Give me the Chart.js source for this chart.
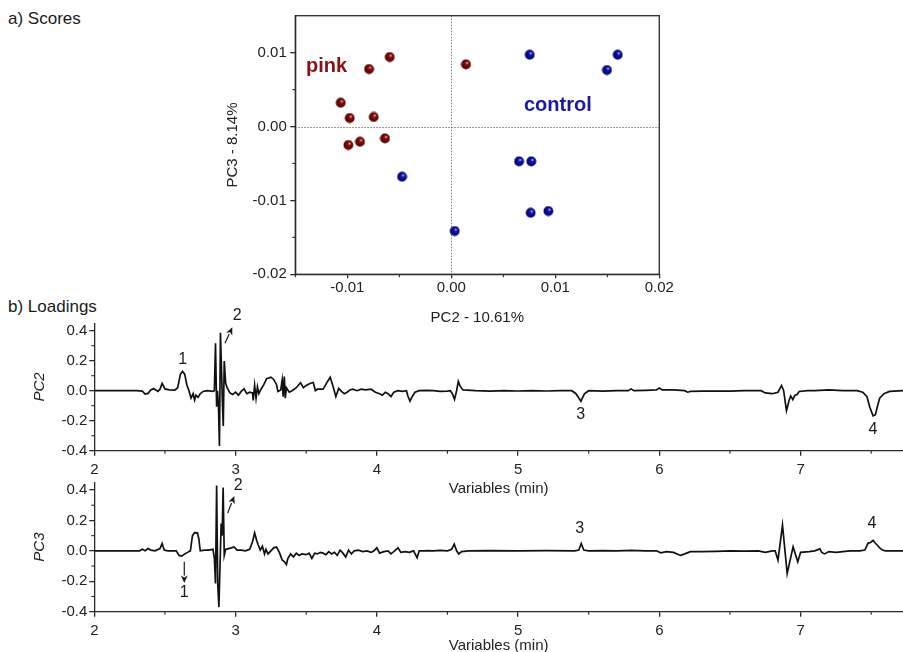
<!DOCTYPE html>
<html>
<head>
<meta charset="utf-8">
<script src="https://cdn.jsdelivr.net/npm/chart.js@4/dist/chart.umd.min.js"></script>
<style>
  html, body { margin:0; padding:0; background:#fff; width:903px; height:652px; overflow:hidden; }
  .wrap { position:absolute; }
  .hdr { position:absolute; font-family:'Liberation Sans', Arial, sans-serif; font-size:17px; line-height:17px; color:#1a1a1a; white-space:nowrap; }
  canvas { display:block; }
</style>
</head>
<body>
<div class="hdr" style="left:8px; top:10px;">a) Scores</div>
<div class="hdr" style="left:8px; top:298px;">b) Loadings</div>
<div class="wrap" style="left:200px; top:0px;"><canvas id="scores" width="480" height="330"></canvas></div>
<div class="wrap" style="left:0px; top:300px;"><canvas id="pc2" width="903" height="200"></canvas></div>
<div class="wrap" style="left:0px; top:470px;"><canvas id="pc3" width="903" height="190"></canvas></div>
<script>
// ---------------- DATA ----------------
// Scores: PC2 (x) vs PC3 (y)
const pinkPC2    = [-0.00592, -0.00791, 0.00141, -0.01063, -0.00977, -0.00746, -0.00878, -0.00990, -0.00638];
const pinkPC3    = [ 0.00941,  0.00778, 0.00842,  0.00322,  0.00115,  0.00129, -0.00206, -0.00250, -0.00160];
const controlPC2 = [ 0.00754,  0.01600, 0.01497, -0.00474,  0.00651,  0.00769,  0.00763,  0.00933,  0.00033];
const controlPC3 = [ 0.00972,  0.00972, 0.00765, -0.00679, -0.00471, -0.00471, -0.01167, -0.01144, -0.01414];
const scoreXTicks = [-0.01, 0.00, 0.01, 0.02];
const scoreYTicks = [-0.02, -0.01, 0.00, 0.01];
const scoreXMinor = [-0.015, -0.005, 0.005, 0.015];
const scoreYMinor = [-0.015, -0.005, 0.005];
const groupLabels = [['pink', -0.01397, 0.00742], ['control', 0.00699, 0.00214]];

// Loadings: retention time (min) vs loading
const pc2Loadings = [
 [2.00,0],[2.30,0],[2.34,-0.003],[2.36,-0.022],[2.38,-0.018],[2.40,0.005],[2.42,0.015],[2.43,0.008],[2.45,-0.005],
 [2.465,0.01],[2.48,0.049],[2.50,0.012],[2.53,0.005],[2.57,0.004],[2.59,0.02],[2.61,0.11],[2.625,0.128],[2.64,0.11],
 [2.655,0.04],[2.67,0.0],[2.685,-0.05],[2.70,-0.02],[2.71,-0.062],[2.72,-0.03],[2.735,-0.045],[2.75,-0.02],[2.77,-0.005],
 [2.80,0.0],[2.84,-0.005],[2.85,0.0],[2.858,0.316],[2.866,-0.107],[2.872,0.0],[2.879,-0.1],[2.886,-0.369],[2.893,0.387],
 [2.90,0.16],[2.906,-0.05],[2.913,-0.236],[2.92,0.198],[2.93,0.05],[2.94,0.02],[2.96,-0.015],[2.98,-0.025],[3.00,-0.01],
 [3.02,-0.03],[3.04,-0.005],[3.06,0.012],[3.08,-0.02],[3.10,-0.01],[3.12,-0.015],[3.125,-0.065],[3.135,0.035],[3.145,-0.05],
 [3.155,0.025],[3.165,-0.02],[3.18,0.01],[3.20,0.04],[3.22,0.08],[3.25,0.09],[3.27,0.075],[3.29,0.04],[3.30,-0.005],
 [3.32,0.005],[3.33,0.07],[3.337,-0.04],[3.345,0.095],[3.352,-0.05],[3.36,0.02],[3.38,-0.01],[3.40,0.0],[3.43,0.02],
 [3.46,0.053],[3.48,0.02],[3.50,0.035],[3.53,0.05],[3.55,0.055],[3.565,0.0],[3.58,0.01],[3.62,0.01],[3.65,0.06],
 [3.67,0.09],[3.69,0.03],[3.71,-0.04],[3.73,0.015],[3.75,-0.005],[3.77,-0.02],[3.79,-0.01],[3.81,0.005],[3.83,0.01],
 [3.86,0.0],[3.89,0.01],[3.92,0.005],[3.96,0.01],[3.99,-0.01],[4.02,-0.02],[4.04,-0.03],[4.06,-0.01],[4.08,-0.02],
 [4.10,-0.04],[4.12,-0.01],[4.15,0.0],[4.18,-0.005],[4.21,0.0],[4.22,-0.035],[4.235,-0.07],[4.25,-0.04],[4.27,-0.01],
 [4.30,0.0],[4.35,0.002],[4.40,0.0],[4.45,-0.005],[4.50,-0.003],[4.52,0.0],[4.535,-0.02],[4.55,-0.058],[4.565,0.0],
 [4.577,0.062],[4.59,0.03],[4.61,0.005],[4.70,0.0],[4.80,-0.003],[4.90,0.0],[5.00,-0.002],[5.10,0.0],[5.20,-0.002],
 [5.30,0.0],[5.38,0.0],[5.41,-0.02],[5.445,-0.07],[5.47,-0.02],[5.50,0.0],[5.60,-0.003],[5.70,0.0],[5.78,0.0],
 [5.80,0.012],[5.82,0.0],[5.90,0.002],[5.98,0.005],[6.00,0.018],[6.02,0.005],[6.10,0.005],[6.18,0.0],[6.20,-0.01],
 [6.22,-0.005],[6.30,-0.003],[6.40,-0.003],[6.50,-0.003],[6.60,0.0],[6.72,0.0],[6.75,-0.015],[6.80,-0.02],[6.84,-0.01],
 [6.865,0.035],[6.88,0.0],[6.90,-0.133],[6.92,-0.06],[6.93,-0.035],[6.945,-0.06],[6.96,-0.03],[6.975,-0.025],[6.99,-0.005],
 [7.05,0.0],[7.10,0.0],[7.20,0.005],[7.30,0.0],[7.40,0.0],[7.44,-0.01],[7.47,-0.04],[7.49,-0.11],[7.513,-0.167],
 [7.53,-0.16],[7.545,-0.1],[7.56,-0.05],[7.59,-0.02],[7.63,-0.005],[7.725,0.0]
];
const pc3Loadings = [
 [2.00,0],[2.32,0],[2.34,0.01],[2.36,0.0],[2.38,0.015],[2.40,0.005],[2.43,0.0],[2.465,0.015],[2.48,0.048],[2.495,0.005],
 [2.52,0.0],[2.58,0.0],[2.60,-0.03],[2.62,-0.035],[2.64,-0.02],[2.66,-0.01],[2.68,0.0],[2.695,0.1],[2.71,0.12],[2.73,0.118],
 [2.74,0.08],[2.75,0.0],[2.78,0.005],[2.81,0.005],[2.84,0.01],[2.85,-0.05],[2.858,-0.215],[2.866,0.43],[2.874,-0.22],
 [2.882,-0.37],[2.89,-0.1],[2.898,0.18],[2.905,0.1],[2.912,0.417],[2.92,-0.03],[2.93,0.01],[2.95,0.015],[2.97,0.02],
 [2.99,0.026],[3.01,0.005],[3.04,0.005],[3.07,0.0],[3.10,0.01],[3.12,0.06],[3.135,0.118],[3.15,0.066],[3.16,0.04],
 [3.175,0.005],[3.19,0.03],[3.205,-0.02],[3.215,0.01],[3.23,-0.02],[3.25,0.0],[3.27,0.02],[3.29,0.025],[3.31,-0.01],
 [3.33,-0.06],[3.345,-0.07],[3.36,-0.09],[3.37,-0.05],[3.39,-0.02],[3.41,-0.04],[3.43,-0.015],[3.45,-0.03],[3.47,-0.02],
 [3.50,-0.025],[3.52,-0.015],[3.54,-0.05],[3.56,-0.015],[3.58,-0.02],[3.60,-0.01],[3.62,-0.015],[3.64,-0.025],[3.66,-0.005],
 [3.68,-0.02],[3.70,-0.01],[3.72,-0.03],[3.74,0.005],[3.76,-0.015],[3.78,-0.04],[3.80,0.005],[3.82,-0.02],[3.84,0.0],
 [3.87,0.005],[3.90,-0.005],[3.93,0.0],[3.96,-0.01],[3.98,0.0],[4.00,0.02],[4.02,-0.015],[4.05,-0.005],[4.08,0.0],
 [4.10,-0.02],[4.12,-0.005],[4.15,0.02],[4.17,-0.01],[4.20,-0.005],[4.23,-0.01],[4.26,0.0],[4.285,-0.045],[4.30,0.0],
 [4.33,0.0],[4.36,0.002],[4.40,0.0],[4.45,0.003],[4.50,0.0],[4.53,0.01],[4.548,0.044],[4.565,0.0],[4.58,-0.02],
 [4.60,-0.005],[4.65,0.0],[4.80,0.002],[5.00,0.0],[5.20,0.002],[5.40,0.0],[5.43,0.005],[5.447,0.048],[5.465,0.005],
 [5.50,0.0],[5.60,0.002],[5.70,0.0],[5.80,0.003],[5.90,0.0],[5.98,0.0],[6.01,-0.013],[6.05,-0.005],[6.10,-0.01],
 [6.15,-0.03],[6.18,-0.02],[6.22,-0.005],[6.30,-0.005],[6.40,-0.003],[6.50,0.0],[6.60,-0.002],[6.70,0.0],[6.75,-0.01],
 [6.80,0.0],[6.82,0.0],[6.84,-0.061],[6.872,0.169],[6.905,-0.149],[6.947,0.026],[6.98,-0.072],[7.00,-0.01],[7.06,-0.005],
 [7.10,0.0],[7.136,0.013],[7.15,-0.01],[7.17,-0.02],[7.20,-0.005],[7.25,-0.01],[7.30,-0.005],[7.35,0.0],[7.42,0.0],
 [7.455,0.005],[7.478,0.051],[7.495,0.055],[7.513,0.068],[7.53,0.05],[7.545,0.035],[7.56,0.02],[7.58,0.005],[7.60,0.0],[7.725,0.0]
];
const loadXTicks = [2, 3, 4, 5, 6, 7];
const loadYTicks = [-0.4, -0.2, 0.0, 0.2, 0.4];
const loadXMinor = [2.5, 3.5, 4.5, 5.5, 6.5, 7.5];
const loadYMinor = [-0.3, -0.1, 0.1, 0.3];
const pc2Labels = [['1', 2.626, 0.209], ['2', 3.012, 0.498], ['3', 5.444, -0.162], ['4', 7.513, -0.262]];
const pc2Arrows = [[2.925, 0.316, 2.977, 0.423]];
const pc3Labels = [['1', 2.637, -0.276], ['2', 3.019, 0.426], ['3', 5.437, 0.147], ['4', 7.506, 0.176]];
const pc3Arrows = [[2.944, 0.248, 2.991, 0.360], [2.637, -0.072, 2.637, -0.211]];

// ---------------- STYLE / HELPERS ----------------
const FONT = "'Liberation Sans', Arial, sans-serif";
Chart.defaults.font.family = FONT;
Chart.defaults.font.size = 15;
Chart.defaults.color = '#222';
const AX = '#2a2a2a';

function sphere(base, dark, hi) {
  const c = document.createElement('canvas');
  c.width = 11; c.height = 11;
  const g = c.getContext('2d');
  const grd = g.createRadialGradient(6.8, 3.9, 0.3, 5.5, 5.5, 5.2);
  grd.addColorStop(0, hi);
  grd.addColorStop(0.25, base);
  grd.addColorStop(1, dark);
  g.fillStyle = grd;
  g.beginPath(); g.arc(5.5, 5.5, 4.9, 0, Math.PI * 2); g.fill();
  return c;
}

const extras = {
  id: 'extras',
  beforeDatasetsDraw(chart, args, o) {
    if (!o.zeroLines) return;
    const {ctx, chartArea: a, scales: {x, y}} = chart;
    ctx.save();
    ctx.strokeStyle = '#7a7a7a'; ctx.lineWidth = 1; ctx.setLineDash([1.5, 1.5]);
    const px = Math.round(x.getPixelForValue(0)) + 0.5, py = Math.round(y.getPixelForValue(0)) + 0.5;
    ctx.beginPath(); ctx.moveTo(px, a.top); ctx.lineTo(px, a.bottom); ctx.stroke();
    ctx.beginPath(); ctx.moveTo(a.left, py); ctx.lineTo(a.right, py); ctx.stroke();
    ctx.restore();
  },
  afterDraw(chart, args, o) {
    const {ctx, chartArea: a, scales: {x, y}} = chart;
    ctx.save();
    if (o.frame) {
      ctx.strokeStyle = AX; ctx.lineWidth = 1.3;
      ctx.strokeRect(a.left, a.top, a.right - a.left, a.bottom - a.top);
    }
    ctx.strokeStyle = AX; ctx.lineWidth = 1.1;
    (o.xMinor || []).forEach(v => {
      const p = x.getPixelForValue(v);
      ctx.beginPath(); ctx.moveTo(p, a.bottom); ctx.lineTo(p, a.bottom + 3); ctx.stroke();
    });
    (o.yMinor || []).forEach(v => {
      const p = y.getPixelForValue(v);
      ctx.beginPath(); ctx.moveTo(a.left, p); ctx.lineTo(a.left - 3, p); ctx.stroke();
    });
    (o.groupLabels || []).forEach((t, i) => {
      ctx.font = 'bold 20px ' + FONT;
      ctx.fillStyle = o.groupColors[i];
      ctx.textAlign = 'left'; ctx.textBaseline = 'alphabetic';
      ctx.fillText(t[0], x.getPixelForValue(t[1]), y.getPixelForValue(t[2]));
    });
    (o.labels || []).forEach(t => {
      ctx.font = '16px ' + FONT;
      ctx.fillStyle = '#1a1a1a';
      ctx.textAlign = 'center'; ctx.textBaseline = 'middle';
      ctx.fillText(t[0], x.getPixelForValue(t[1]), y.getPixelForValue(t[2]));
    });
    (o.arrows || []).forEach(r => {
      const x1 = x.getPixelForValue(r[0]), y1 = y.getPixelForValue(r[1]);
      const x2 = x.getPixelForValue(r[2]), y2 = y.getPixelForValue(r[3]);
      const ang = Math.atan2(y2 - y1, x2 - x1);
      const L = 7.5, W = 3.4;
      const bx = x2 - L * Math.cos(ang), by = y2 - L * Math.sin(ang);
      ctx.strokeStyle = '#1a1a1a'; ctx.fillStyle = '#1a1a1a'; ctx.lineWidth = 1.2;
      ctx.beginPath(); ctx.moveTo(x1, y1); ctx.lineTo(bx, by); ctx.stroke();
      ctx.beginPath();
      ctx.moveTo(x2, y2);
      ctx.lineTo(bx + W * Math.sin(ang), by - W * Math.cos(ang));
      ctx.lineTo(x2 - (L - 2) * Math.cos(ang), y2 - (L - 2) * Math.sin(ang));
      ctx.lineTo(bx - W * Math.sin(ang), by + W * Math.cos(ang));
      ctx.closePath(); ctx.fill();
    });
    ctx.restore();
  }
};

function fixedTicks(vals) { return s => { s.ticks = vals.map(v => ({value: v})); }; }
function axisBase(tl) {
  return {
    border: {display: true, color: AX, width: 1.3},
    grid: {display: true, drawOnChartArea: false, drawTicks: true, tickLength: tl, color: AX, lineWidth: 1.3}
  };
}

// ---------------- SCORES ----------------
new Chart(document.getElementById('scores'), {
  type: 'scatter',
  data: {
    datasets: [
      {label: 'pink', data: pinkPC2.map((v, i) => ({x: v, y: pinkPC3[i]})), pointStyle: sphere('#8e0d0d', '#4a0000', '#f3c8c8'), pointRadius: 5, pointHoverRadius: 5},
      {label: 'control', data: controlPC2.map((v, i) => ({x: v, y: controlPC3[i]})), pointStyle: sphere('#1414b4', '#000060', '#c8c8ff'), pointRadius: 5, pointHoverRadius: 5}
    ]
  },
  options: {
    responsive: false, animation: false, devicePixelRatio: 1,
    layout: {padding: {top: 15.7, right: 20.7, left: 0, bottom: 0}},
    plugins: {
      legend: {display: false}, tooltip: {enabled: false},
      extras: {frame: true, zeroLines: true, xMinor: scoreXMinor, yMinor: scoreYMinor,
               groupLabels: groupLabels, groupColors: ['#8e0f0f', '#1a1aa6']}
    },
    scales: {
      x: Object.assign(axisBase(4), {
        type: 'linear', min: -0.015, max: 0.02,
        afterBuildTicks: fixedTicks(scoreXTicks),
        afterFit: s => { s.height = 55.7; },
        ticks: {padding: 1, maxRotation: 0, autoSkip: false, callback: v => v.toFixed(2)},
        title: {display: true, text: 'PC2 - 10.61%', padding: {top: 0, bottom: 3}}
      }),
      y: Object.assign(axisBase(5), {
        type: 'linear', min: -0.02, max: 0.015,
        afterBuildTicks: fixedTicks(scoreYTicks),
        afterFit: s => { s.width = 95.3; },
        ticks: {padding: 3.5, autoSkip: false, callback: v => v.toFixed(2)},
        title: {display: true, text: 'PC3 - 8.14%', padding: {top: 24, bottom: 0}}
      })
    }
  },
  plugins: [extras]
});

// ---------------- LOADINGS ----------------
function loadingChart(id, pts, yTitle, padTop, xH, xTitlePad, labels, arrows) {
  return new Chart(document.getElementById(id), {
    type: 'line',
    data: {datasets: [{data: pts.map(p => ({x: p[0], y: p[1]})), borderColor: '#111', borderWidth: 1.7,
                       pointRadius: 0, tension: 0, fill: false}]},
    options: {
      responsive: false, animation: false, devicePixelRatio: 1,
      layout: {padding: {top: padTop, right: 0, left: 0, bottom: 0}},
      plugins: {
        legend: {display: false}, tooltip: {enabled: false},
        extras: {xMinor: loadXMinor, yMinor: loadYMinor, labels: labels, arrows: arrows}
      },
      scales: {
        x: Object.assign(axisBase(5), {
          type: 'linear', min: 2, max: 7.725,
          afterBuildTicks: fixedTicks(loadXTicks),
          afterFit: s => { s.height = xH; },
          ticks: {padding: 5, maxRotation: 0, autoSkip: false, callback: v => String(v)},
          title: {display: true, text: 'Variables (min)', padding: {top: 0, bottom: xTitlePad}}
        }),
        y: Object.assign(axisBase(5), {
          type: 'linear', min: -0.4, max: 0.45,
          afterBuildTicks: fixedTicks(loadYTicks),
          afterFit: s => { s.width = 94.3; },
          ticks: {padding: 2, autoSkip: false, callback: v => v.toFixed(1)},
          title: {display: true, text: yTitle, font: {style: 'italic', size: 15}, padding: {top: 31, bottom: 0}}
        })
      }
    },
    plugins: [extras]
  });
}
loadingChart('pc2', pc2Loadings, 'PC2', 23.2, 49.3, 2, pc2Labels, pc2Arrows);
loadingChart('pc3', pc3Loadings, 'PC3', 12.4, 48.3, 5, pc3Labels, pc3Arrows);
</script>
</body>
</html>
